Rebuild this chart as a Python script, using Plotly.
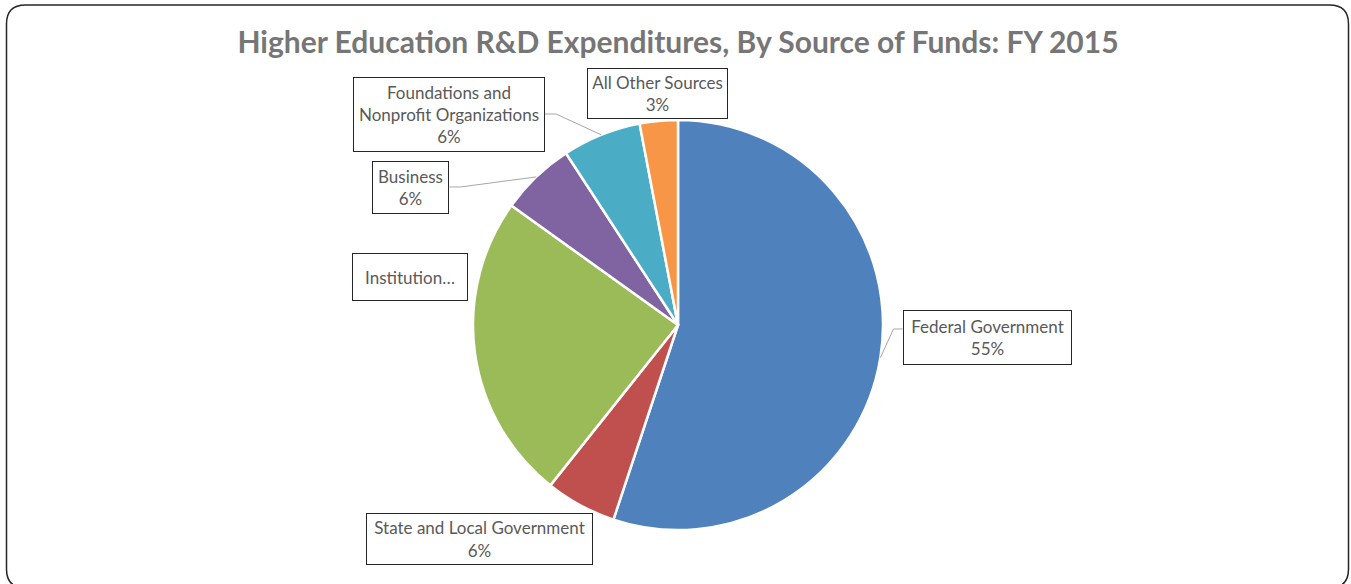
import math
import plotly.graph_objects as go

W, H = 1351, 584

# Data (share of total, %)
sources = ["Federal Government", "State and Local Government", "Institution Funds",
           "Business", "Foundations and Nonprofit Organizations", "All Other Sources"]
shares = [55.1, 5.6, 24.2, 5.9, 6.2, 3.0]
colors = ["#4F81BD", "#C0504D", "#9BBB59", "#8064A2", "#4BACC6", "#F79646"]
label_texts = ["Federal Government", "State and Local Government", "Institution\u2026",
               "Business", "Foundations and<br>Nonprofit Organizations", "All Other Sources"]
show_pct = [True, True, False, True, True, True]

# Layout (pixel) parameters
cx, cy, R = 678, 325, 205
# label boxes: center x, center y, width, height (pixels)
boxes = [(987, 337, 169, 55), (479, 539, 227, 52), (410, 277, 116, 48),
         (411, 187, 77, 53), (449, 114, 192, 75), (657, 94, 141, 51)]
leaders = [0, 3, 4]  # slices with leader lines

def px(x):
    return x / W

def py(y):
    return 1 - y / H

fig = go.Figure(go.Pie(
    labels=sources, values=shares, sort=False, direction="clockwise", rotation=0,
    marker=dict(colors=colors, line=dict(color="white", width=2.5)),
    textinfo="none", showlegend=False,
    domain=dict(x=[px(cx - R), px(cx + R)], y=[py(cy + R), py(cy - R)]),
))

total = sum(shares)
annotations = []
shapes = []
cum = 0
for i, s in enumerate(shares):
    bx, by, bw, bh = boxes[i]
    txt = label_texts[i]
    if show_pct[i]:
        txt += "<br>%d%%" % round(s / total * 100)
    annotations.append(dict(
        x=px(bx), y=py(by), xref="paper", yref="paper", xanchor="center", yanchor="middle",
        text=txt, showarrow=False, width=bw - 2, height=bh - 2, borderpad=0,
        bordercolor="#262626", borderwidth=1, bgcolor="white",
        font=dict(family="Lato, Open Sans, sans-serif", size=17, color="#595959"), align="center",
    ))
    mid = (cum + s / 2) / total * 2 * math.pi
    cum += s
    if i in leaders:
        ex = cx + R * math.sin(mid)
        ey = cy - R * math.cos(mid)
        if ex > bx:  # box on the left
            sx = bx + bw / 2
            kx = sx + 11
        else:
            sx = bx - bw / 2
            kx = sx - 9
        sy = by if i != 0 else by - 8
        shapes.append(dict(type="path", xref="paper", yref="paper",
                           path="M %f,%f L %f,%f L %f,%f" % (px(sx), py(sy), px(kx), py(sy), px(ex), py(ey)),
                           line=dict(color="#A6A6A6", width=1)))

# rounded outer border
x0, y0, x1, y1, r = 6.5, 5, 1348.5, 588, 19
path = ("M %f,%f L %f,%f Q %f,%f %f,%f L %f,%f Q %f,%f %f,%f L %f,%f Q %f,%f %f,%f L %f,%f Q %f,%f %f,%f Z" % (
    px(x0 + r), py(y0), px(x1 - r), py(y0), px(x1), py(y0), px(x1), py(y0 + r),
    px(x1), py(y1 - r), px(x1), py(y1), px(x1 - r), py(y1),
    px(x0 + r), py(y1), px(x0), py(y1), px(x0), py(y1 - r),
    px(x0), py(y0 + r), px(x0), py(y0), px(x0 + r), py(y0)))
shapes.insert(0, dict(type="path", xref="paper", yref="paper", path=path,
                      line=dict(color="#262626", width=1.5), layer="below"))

fig.update_layout(
    width=W, height=H, margin=dict(l=0, r=0, t=0, b=0),
    paper_bgcolor="white", plot_bgcolor="white",
    title=dict(text="<b>Higher Education R&D Expenditures, By Source of Funds: FY 2015</b>",
               x=px(678), y=py(42), xanchor="center", yanchor="middle",
               font=dict(family="Lato, Open Sans, sans-serif", size=30, color="#767676")),
    annotations=annotations, shapes=shapes,
)

fig.write_html("out.html", config={"displayModeBar": False},
               post_script="document.body.style.margin='0';document.body.style.overflow='hidden';")
